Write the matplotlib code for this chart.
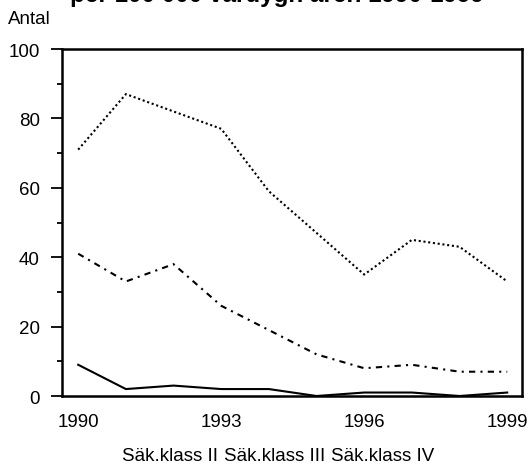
import matplotlib
matplotlib.use("Agg")
import matplotlib.pyplot as plt
from matplotlib.ticker import MultipleLocator

plt.rcParams['font.family'] = ['Liberation Sans', 'DejaVu Sans']

years = [1990, 1991, 1992, 1993, 1994, 1995, 1996, 1997, 1998, 1999]
klass_II = [9, 2, 3, 2, 2, 0, 1, 1, 0, 1]
klass_III = [41, 33, 38, 26, 19, 12, 8, 9, 7, 7]
klass_IV = [71, 87, 82, 77, 59, 47, 35, 45, 43, 33]
series_labels = ["Säk.klass II", "Säk.klass III", "Säk.klass IV"]
xticks = [1990, 1993, 1996, 1999]
yticks = [0, 20, 40, 60, 80, 100]
title = "per 100 000 vardygn åren 1990-1999"

W, H = 530, 464
fig = plt.figure(figsize=(W / 100, H / 100), dpi=100)
ax = fig.add_axes([62 / W, 1 - 397 / H, (522 - 62) / W, (397 - 50) / H])

ax.plot(years, klass_II, color='black', lw=1.5, linestyle='-', label=series_labels[0])
ax.plot(years, klass_III, color='black', lw=1.5, linestyle=(0, (3, 2.5, 1, 2.5)), label=series_labels[1])
ax.plot(years, klass_IV, color='black', lw=1.5, linestyle=(0, (1, 1.3)), label=series_labels[2])

ax.set_xlim(1989.66, 1999.31)
ax.set_ylim(0, 100)
ax.set_xticks(xticks)
ax.set_yticks(yticks)
ax.yaxis.set_minor_locator(MultipleLocator(10))
ax.tick_params(axis='x', length=0, pad=12, labelsize=13.5)
ax.tick_params(axis='y', which='major', length=8, width=1.3, pad=8, labelsize=13.5, direction='out')
ax.tick_params(axis='y', which='minor', length=3.6, width=1.3, direction='out')
for s in ax.spines.values():
    s.set_linewidth(1.8)

fig.text(8 / W, 1 - 20 / H, "Antal", fontsize=13.5, va='center', ha='left')
fig.text(277 / W, 1 - 2 / H, title, fontsize=17.5, fontweight='bold', ha='center', va='baseline')

leg = fig.legend(*ax.get_legend_handles_labels(), loc='center', bbox_to_anchor=(278 / W, 1 - 456 / H),
                 ncol=3, frameon=False, handlelength=0, handletextpad=0,
                 columnspacing=0.3, fontsize=13.5, borderpad=0)
for h in leg.legend_handles:
    h.set_visible(False)

fig.savefig("out.png", dpi=100)
